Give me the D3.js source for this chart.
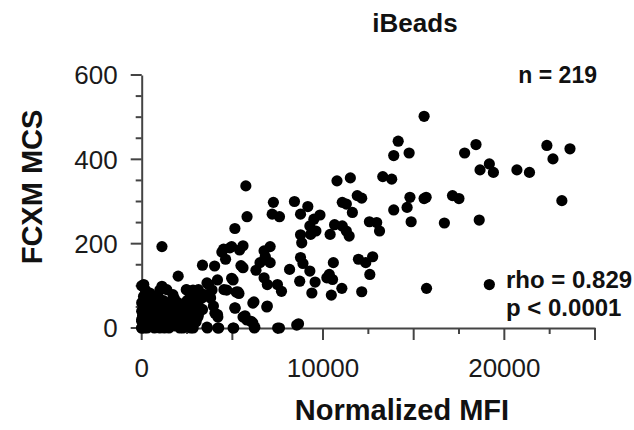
<!DOCTYPE html>
<html><head><meta charset="utf-8">
<script src="https://cdn.jsdelivr.net/npm/d3@7"></script>
<style>body{margin:0;background:#fff}svg{display:block}text{font-family:"Liberation Sans",Arial,sans-serif}</style>
</head><body><svg id="c" width="634" height="430"></svg>
<script>
// Normalized MFI values (x) and FCXM MCS values (y)
const mfi = [
15575,14146,13900,14749,17810,18436,22346,22682,23620,19173,18659,19397,20693,21386,23173,
13296,13788,10771,11508,14793,15575,15687,17140,17497,14637,13900,14860,16693,18615,15709,19173,
11888,12134,11061,11285,11620,12559,12961,13117,10637,11061,11285,11441,10391,11955,12357,12737,12581,12134,11039,10458,10570,10346,10525,10212,
8425,9162,8760,9497,9832,9274,8760,9609,9318,8827,7263,7196,7598,5743,5810,5140,7084,6749,6816,6525,7084,6302,6749,6927,7486,7709,8156,8760,8894,9274,8715,9385,9564,
5587,4961,4514,4626,5475,5587,4961,4536,5207,5363,5140,6190,6927,5698,6034,6212,7598,8648,5073,4246,3620,
1117,2011,3352,4022,4179,3687,3128,3464,3799,2838,2458,2905,3352,3955,4179,3128,2168,2570,2279,2838,1117,1385,1721,1117,447,112,335,112,0,0,
2500,2830,3600,3880,4690,5040,5300,2660,3320,3760,2110,3040,3100,4040,4200,5150,6130,6900,5590,5800,6130,3600,4200,5040,6240,7500,8550,4420,4860,5400,
0,100,200,300,400,500,600,700,800,900,1000,1100,1200,1300,1400,1500,1600,1700,1800,1900,2000,2100,2200,2400,2600,
50,150,250,350,450,550,650,750,850,950,1050,1150,1250,1350,1450,1550,1650,1750,1850,1950,2050,2300,2500,
0,100,200,0,300,500,700,900,1000,1200,1500,1800,2000,2200,2500,2700,2800,3000,
0,0,150,350,650,950,1250,1550,1850,2150,2350,2700,2900,3100,3300
];
const mcs = [
502,443,409,415,415,435,433,401,425,389,375,369,375,369,302,
359,353,349,356,310,307,310,314,307,286,280,252,249,256,94,103,
314,308,298,294,274,252,250,230,245,242,230,218,222,163,155,169,127,86,94,78,155,127,115,119,
300,288,270,258,268,242,221,230,222,202,298,270,264,337,264,236,193,183,169,155,155,137,119,103,103,87,139,167,153,135,111,83,109,
195,193,187,163,148,143,118,91,85,82,48,62,52,29,16,0,0,10,0,0,0,
193,123,149,147,114,103,91,79,71,71,91,56,44,52,32,32,45,20,0,0,99,91,79,64,83,103,71,40,16,0,
90,90,107,90,90,114,86,71,71,74,50,50,26,35,26,47,59,50,26,19,12,2,0,0,2,0,7,180,190,185,
0,5,10,0,20,5,15,0,25,10,0,20,5,30,10,0,25,15,5,35,20,0,30,10,25,
30,45,35,50,40,30,55,40,45,35,50,40,55,45,35,50,40,30,50,45,55,45,40,
60,75,90,100,65,70,60,75,90,65,60,70,60,55,65,50,30,15,
20,40,0,10,5,15,0,15,10,15,5,0,45,60,80
];
const xTickLabels = ["0","10000","20000"];
const yTickLabels = ["0","200","400","600"];
const title = "iBeads";
const xTitle = "Normalized MFI";
const yTitle = "FCXM MCS";
const nText = "n = 219";
const rhoText = "rho = 0.829";
const pText = "p < 0.0001";

const svg = d3.select("#c");
const x = d3.scaleLinear().domain([0,25000]).range([141.7,595]);
const y = d3.scaleLinear().domain([0,600]).range([328,75]);
const axisCol = "#444";

// x axis
const gx = svg.append("g").attr("transform","translate(0,328)");
gx.call(d3.axisBottom(x).tickValues(d3.range(0,25001,2500)).tickSize(0).tickFormat(""));
gx.select(".domain").attr("stroke",axisCol).attr("stroke-width",2);
gx.selectAll(".tick line").remove();
d3.range(0,25001,2500).forEach(v=>{
  const major = v%5000===0;
  gx.append("line").attr("x1",x(v)).attr("x2",x(v)).attr("y1",0).attr("y2",major?12:6)
    .attr("stroke",axisCol).attr("stroke-width",2);
});
xTickLabels.forEach(t=>{
  gx.append("text").attr("x",x(+t)).attr("y",49).attr("text-anchor","middle")
    .attr("font-size",26).attr("fill","#1a1a1a").text(t);
});

// y axis
const gy = svg.append("g").attr("transform","translate(141.7,0)");
gy.call(d3.axisLeft(y).tickValues(d3.range(0,601,50)).tickSize(0).tickFormat(""));
gy.select(".domain").attr("stroke",axisCol).attr("stroke-width",2);
gy.selectAll(".tick line").remove();
d3.range(0,601,50).forEach(v=>{
  const major = v%200===0;
  gy.append("line").attr("x1",major?-11:-6).attr("x2",0).attr("y1",y(v)).attr("y2",y(v))
    .attr("stroke",axisCol).attr("stroke-width",2);
});
yTickLabels.forEach(t=>{
  gy.append("text").attr("x",-24).attr("y",y(+t)).attr("dy","0.36em").attr("text-anchor","end")
    .attr("font-size",26).attr("fill","#1a1a1a").text(t);
});

// points
const pts = mfi.map((v,i)=>[v,mcs[i]]);
svg.append("g").selectAll("circle").data(pts).join("circle")
  .attr("cx",d=>x(d[0])).attr("cy",d=>y(d[1])).attr("r",5.6).attr("fill","#000");

// texts
svg.append("text").attr("x",415).attr("y",32).attr("text-anchor","middle")
  .attr("font-size",26).attr("font-weight","bold").attr("fill","#111").text(title);
svg.append("text").attr("x",402).attr("y",420).attr("text-anchor","middle")
  .attr("font-size",29).attr("font-weight","bold").attr("fill","#111").text(xTitle);
svg.append("text").attr("transform","translate(42,187) rotate(-90)").attr("text-anchor","middle")
  .attr("font-size",29).attr("font-weight","bold").attr("fill","#111").text(yTitle);
svg.append("text").attr("x",597).attr("y",83).attr("text-anchor","end")
  .attr("font-size",23).attr("font-weight","bold").attr("fill","#111").text(nText);
svg.append("text").attr("x",506).attr("y",288).attr("text-anchor","start")
  .attr("font-size",24).attr("font-weight","bold").attr("fill","#111").text(rhoText);
svg.append("text").attr("x",506).attr("y",316).attr("text-anchor","start")
  .attr("font-size",24).attr("font-weight","bold").attr("fill","#111").text(pText);
</script></body></html>
